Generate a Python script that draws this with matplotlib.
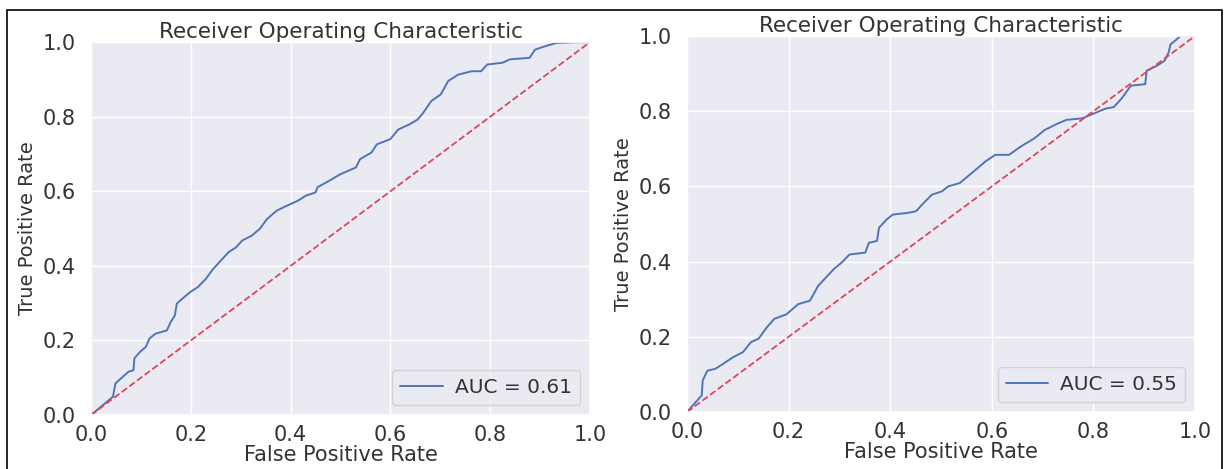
import numpy as np
import matplotlib
matplotlib.use("Agg")
import matplotlib.pyplot as plt
import seaborn as sns
from matplotlib.patches import Rectangle

# ROC points
fpr_left = [0.0, 0.044, 0.049, 0.06, 0.075, 0.085, 0.087, 0.098, 0.11, 0.117, 0.129,
            0.152, 0.16, 0.168, 0.172, 0.183, 0.199, 0.214, 0.23, 0.245, 0.26, 0.276,
            0.291, 0.303, 0.322, 0.338, 0.353, 0.372, 0.392, 0.415, 0.43, 0.45, 0.454,
            0.477, 0.5, 0.531, 0.539, 0.562, 0.573, 0.6, 0.616, 0.639, 0.655, 0.666,
            0.682, 0.701, 0.716, 0.736, 0.763, 0.782, 0.794, 0.825, 0.84, 0.879, 0.89,
            0.91, 0.933, 0.972, 1.0]
tpr_left = [0.0, 0.049, 0.085, 0.098, 0.116, 0.12, 0.152, 0.169, 0.183, 0.205, 0.218,
            0.227, 0.25, 0.267, 0.299, 0.312, 0.33, 0.343, 0.365, 0.392, 0.414, 0.437,
            0.45, 0.468, 0.481, 0.499, 0.526, 0.548, 0.561, 0.575, 0.588, 0.597, 0.611,
            0.628, 0.646, 0.664, 0.686, 0.704, 0.726, 0.74, 0.766, 0.78, 0.793, 0.811,
            0.842, 0.86, 0.896, 0.913, 0.922, 0.922, 0.94, 0.945, 0.954, 0.958, 0.98,
            0.989, 0.998, 1.0, 1.0]

fpr_right = [0.0, 0.017, 0.029, 0.031, 0.04, 0.056, 0.071, 0.091, 0.11, 0.126, 0.141,
             0.157, 0.172, 0.196, 0.219, 0.242, 0.258, 0.273, 0.289, 0.304, 0.32, 0.351,
             0.358, 0.374, 0.378, 0.393, 0.405, 0.436, 0.451, 0.463, 0.482, 0.502, 0.514,
             0.537, 0.568, 0.588, 0.607, 0.634, 0.657, 0.684, 0.704, 0.731, 0.747, 0.778,
             0.801, 0.824, 0.84, 0.855, 0.874, 0.902, 0.905, 0.925, 0.94, 0.948, 0.952,
             0.964, 0.971, 1.0]
tpr_right = [0.0, 0.026, 0.044, 0.084, 0.11, 0.115, 0.128, 0.146, 0.159, 0.186, 0.195,
             0.225, 0.248, 0.26, 0.287, 0.296, 0.335, 0.357, 0.38, 0.397, 0.419, 0.424,
             0.45, 0.455, 0.49, 0.512, 0.525, 0.53, 0.534, 0.552, 0.578, 0.587, 0.6,
             0.609, 0.644, 0.667, 0.684, 0.684, 0.706, 0.728, 0.75, 0.768, 0.777, 0.781,
             0.794, 0.807, 0.811, 0.833, 0.868, 0.872, 0.908, 0.921, 0.934, 0.956, 0.978,
             0.991, 1.0, 1.0]

auc_values = [0.61, 0.55]

sns.set_theme(style="darkgrid")
plt.rcParams['font.family'] = ['DejaVu Sans']

fig = plt.figure(figsize=(12.25, 4.69), dpi=100)
ax1 = fig.add_axes([0.0743, 0.1151, 0.4073, 0.795])
ax2 = fig.add_axes([0.5608, 0.1215, 0.4147, 0.8017])

panels = [(ax1, fpr_left, tpr_left, auc_values[0]),
          (ax2, fpr_right, tpr_right, auc_values[1])]

for ax, fpr, tpr, auc in panels:
    ax.plot(fpr, tpr, color='#5173B8', lw=1.4, label='AUC = %0.2f' % auc)
    ax.plot([0, 1], [0, 1], '--', color='#D9485A', lw=1.3)
    ax.set_xlim([0, 1])
    ax.set_ylim([0, 1])
    ax.set_title('Receiver Operating Characteristic', fontsize=15.5, pad=3, color='#333333')
    ax.set_xlabel('False Positive Rate', fontsize=15, labelpad=0, color='#333333')
    ax.set_ylabel('True Positive Rate', fontsize=14, labelpad=4, color='#333333')
    ax.tick_params(axis='x', labelsize=15, colors='#333333', pad=1)
    ax.tick_params(axis='y', labelsize=15, colors='#333333', pad=5)
    leg = ax.legend(loc='lower right', fontsize=14.5, handlelength=2.1,
                    handletextpad=0.6, frameon=True, framealpha=0.8)
    for t in leg.get_texts():
        t.set_color('#333333')

# thin frame round the screenshot
fig.patches.append(Rectangle((7 / 1225, -0.05), (1222 - 7) / 1225, 1.05 - 10 / 469,
                             transform=fig.transFigure, fill=False,
                             edgecolor='black', lw=1.2))

fig.savefig('out.png', dpi=100, facecolor='white')
